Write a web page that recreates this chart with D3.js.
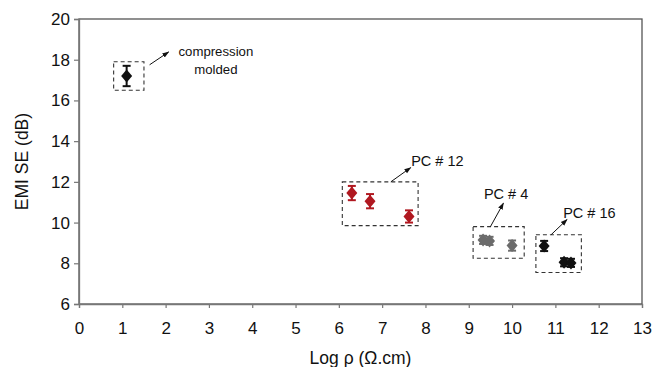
<!DOCTYPE html>
<html><head><meta charset="utf-8">
<script src="https://cdn.jsdelivr.net/npm/d3@7"></script>
<style>body{margin:0;background:#fff}svg{display:block}text{font-family:"Liberation Sans",Arial,sans-serif}</style>
</head><body>
<script>
// Data
const compression = [{x:1.1, y:17.2, e:0.5}];
const pc12 = [{x:6.3, y:11.45, e:0.35},{x:6.72, y:11.05, e:0.35},{x:7.62, y:10.3, e:0.3}];
const pc4 = [{x:9.33, y:9.15, e:0.2},{x:9.48, y:9.1, e:0.2},{x:10.0, y:8.87, e:0.25}];
const pc16 = [{x:10.74, y:8.85, e:0.25},{x:11.2, y:8.05, e:0.2},{x:11.36, y:8.02, e:0.2}];
const xTicks = d3.range(0,14);
const yTicks = [6,8,10,12,14,16,18,20];
// annotation boxes in data units: [x0,x1,y0,y1], arrow [x0,y0,x1,y1], label
const annotations = [
  {box:[0.8,1.5,16.5,17.9], arrow:[1.63,17.75,2.07,18.38], label:["compression","molded"], lx:3.16, ly:[18.4,17.5], anchor:"middle", fs:13.2},
  {box:[6.08,7.83,9.85,12.0], arrow:[7.2,12.0,7.66,12.7], label:["PC # 12"], lx:7.67, ly:[13.03], anchor:"start", fs:14.5},
  {box:[9.1,10.28,8.25,9.8], arrow:[9.5,9.8,9.8,10.95], label:["PC # 4"], lx:9.35, ly:[11.4], anchor:"start", fs:14.5},
  {box:[10.55,11.6,7.55,9.4], arrow:[10.9,9.4,11.27,10.15], label:["PC # 16"], lx:11.18, ly:[10.47], anchor:"start", fs:14.5}
];

const W=653,H=367;
const m={l:79,r:11,t:19,b:63};
const svg=d3.select("body").append("svg").attr("width",W).attr("height",H);
const x=d3.scaleLinear().domain([0,13]).range([m.l,W-m.r]);
const y=d3.scaleLinear().domain([6,20]).range([H-m.b,m.t]);

svg.append("defs").append("marker").attr("id","ah").attr("viewBox","0 0 10 10")
  .attr("refX",9).attr("refY",5).attr("markerWidth",7).attr("markerHeight",7).attr("orient","auto")
  .append("path").attr("d","M0,1.5L10,5L0,8.5Z").attr("fill","#111");

// frame
svg.append("rect").attr("x",x(0)).attr("y",y(20)).attr("width",x(13)-x(0)).attr("height",y(6)-y(20))
  .attr("fill","none").attr("stroke","#555").attr("stroke-width",1.3);

const xa=svg.append("g").attr("transform",`translate(0,${y(6)})`)
  .call(d3.axisBottom(x).tickValues(xTicks).tickSize(4).tickPadding(14).tickFormat(d3.format("d")));
const ya=svg.append("g").attr("transform",`translate(${x(0)},0)`)
  .call(d3.axisLeft(y).tickValues(yTicks).tickSize(5).tickPadding(4).tickFormat(d3.format("d")));
[xa,ya].forEach(a=>{
  a.select(".domain").attr("stroke","#777").attr("stroke-width",1.3);
  a.selectAll(".tick line").attr("stroke","#777").attr("stroke-width",1.2);
  a.selectAll(".tick text").attr("font-size",17).attr("fill","#111").attr("font-family","Liberation Sans, Arial, sans-serif");
});

svg.append("text").attr("x",(x(0)+x(13))/2).attr("y",364).attr("text-anchor","middle")
  .attr("font-size",17.5).attr("fill","#111").text("Log ρ (Ω.cm)");
svg.append("text").attr("transform",`translate(28,${(y(6)+y(20))/2}) rotate(-90)`).attr("text-anchor","middle")
  .attr("font-size",17.5).attr("fill","#111").text("EMI SE (dB)");

// annotations
annotations.forEach(a=>{
  svg.append("rect").attr("x",x(a.box[0])).attr("y",y(a.box[3]))
    .attr("width",x(a.box[1])-x(a.box[0])).attr("height",y(a.box[2])-y(a.box[3]))
    .attr("fill","none").attr("stroke","#333").attr("stroke-width",1.1).attr("stroke-dasharray","4,3");
  svg.append("line").attr("x1",x(a.arrow[0])).attr("y1",y(a.arrow[1])).attr("x2",x(a.arrow[2])).attr("y2",y(a.arrow[3]))
    .attr("stroke","#111").attr("stroke-width",1).attr("marker-end","url(#ah)");
  a.label.forEach((t,i)=>{
    svg.append("text").attr("x",x(a.lx)).attr("y",y(a.ly[i])).attr("text-anchor",a.anchor)
      .attr("dominant-baseline","central").attr("font-size",a.fs).attr("fill","#111").text(t);
  });
});

const diamond="M0,-6.5L5.5,0L0,6.5L-5.5,0Z";
function series(data,color){
  const g=svg.append("g");
  data.forEach(d=>{
    g.append("line").attr("x1",x(d.x)).attr("x2",x(d.x)).attr("y1",y(d.y+d.e)).attr("y2",y(d.y-d.e))
      .attr("stroke",color).attr("stroke-width",2);
    [d.y+d.e,d.y-d.e].forEach(v=>g.append("line").attr("x1",x(d.x)-4).attr("x2",x(d.x)+4)
      .attr("y1",y(v)).attr("y2",y(v)).attr("stroke",color).attr("stroke-width",2));
    g.append("path").attr("d",diamond).attr("transform",`translate(${x(d.x)},${y(d.y)})`).attr("fill",color);
  });
}
series(compression,"#111");
series(pc12,"#b01820");
series(pc4,"#6b6b6b");
series(pc16,"#111");
</script>
</body></html>
